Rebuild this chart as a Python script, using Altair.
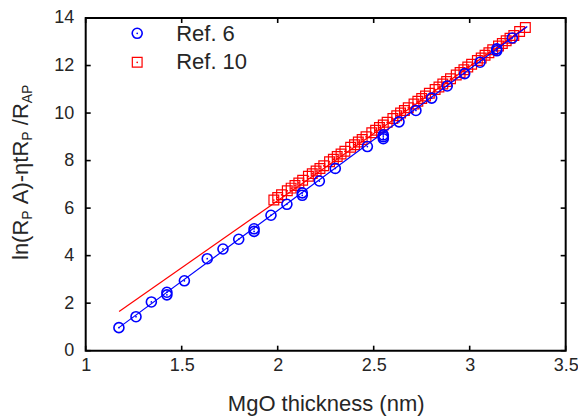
import altair as alt
import pandas as pd

# ---- data ----
ref6_x = [1.173, 1.262, 1.342, 1.423, 1.423, 1.514, 1.633, 1.715, 1.797, 1.877, 1.877,
          1.965, 2.048, 2.128, 2.128, 2.217, 2.300, 2.467, 2.550, 2.550, 2.550, 2.632,
          2.720, 2.802, 2.883, 2.974, 3.054, 3.141, 3.141, 3.222]
ref6_y = [0.97, 1.43, 2.05, 2.46, 2.35, 2.94, 3.87, 4.28, 4.69, 5.02, 5.13,
          5.70, 6.16, 6.54, 6.64, 7.14, 7.67, 8.59, 8.92, 9.00, 9.08, 9.63,
          10.11, 10.63, 11.14, 11.66, 12.14, 12.62, 12.70, 13.16]

ref10_x = [1.98, 2.00, 2.02, 2.05, 2.07, 2.09, 2.11, 2.13, 2.16, 2.18, 2.20, 2.22, 2.24,
           2.27, 2.29, 2.31, 2.33, 2.35, 2.38, 2.40, 2.42, 2.44, 2.46, 2.49, 2.51, 2.53,
           2.55, 2.57, 2.60, 2.62, 2.64, 2.66, 2.68, 2.71, 2.73, 2.75, 2.77, 2.79, 2.82,
           2.84, 2.86, 2.88, 2.90, 2.93, 2.95, 2.97, 2.99, 3.01, 3.04, 3.06, 3.08, 3.10,
           3.12, 3.15, 3.17, 3.19, 3.21, 3.23, 3.26, 3.29]
ref10_y = [6.34, 6.45, 6.56, 6.73, 6.84, 6.95, 7.06, 7.17, 7.34, 7.45, 7.56, 7.67, 7.78,
           7.95, 8.06, 8.17, 8.28, 8.39, 8.56, 8.67, 8.78, 8.89, 9.00, 9.17, 9.28, 9.39,
           9.50, 9.61, 9.77, 9.89, 10.00, 10.11, 10.22, 10.38, 10.50, 10.61, 10.72, 10.83,
           10.99, 11.10, 11.22, 11.33, 11.44, 11.60, 11.71, 11.82, 11.94, 12.05, 12.21,
           12.32, 12.43, 12.54, 12.66, 12.82, 12.93, 13.04, 13.15, 13.26, 13.43, 13.60]

fit6_x = [1.173, 3.30]
fit6_y = [0.97, 13.64]
fit10_x = [1.174, 3.29]
fit10_y = [1.65, 13.60]

x_ticks = [1, 1.5, 2, 2.5, 3, 3.5]
y_ticks = [0, 2, 4, 6, 8, 10, 12, 14]

legend_labels = ["Ref. 6", "Ref. 10"]

# y-axis title pieces: (text, is_subscript, gap before piece in em of main font)
ytitle_parts = [("ln(R", False, 0.0), ("P", True, 0.0), ("A)-\u03b7tR", False, 0.278),
                ("P", True, 0.0), ("/R", False, 0.278), ("AP", True, 0.0)]

# ---- styling ----
W, H = 480, 332.7
FONT = "Liberation Sans"
TXT = "#262626"
BLUE = "#0000ff"
RED = "#ff0000"

df6 = pd.DataFrame({"x": ref6_x, "y": ref6_y})
df10 = pd.DataFrame({"x": ref10_x, "y": ref10_y})
dfit6 = pd.DataFrame({"x": fit6_x, "y": fit6_y})
dfit10 = pd.DataFrame({"x": fit10_x, "y": fit10_y})
dxt = pd.DataFrame({"x": x_ticks})
dyt = pd.DataFrame({"y": y_ticks})

xscale = alt.Scale(domain=[1, 3.5], nice=False, zero=False)
yscale = alt.Scale(domain=[0, 14], nice=False, zero=False)

xaxis = alt.Axis(values=x_ticks, format="~g", ticks=False, domain=False, grid=False,
                 labelFontSize=18, labelFont=FONT, labelColor=TXT, labelPadding=6,
                 title="MgO thickness (nm)", titleFontSize=22, titleFont=FONT,
                 titleFontWeight="normal", titleColor=TXT, titlePadding=19,
                 labelFlush=False)
yaxis = alt.Axis(values=y_ticks, format="~g", ticks=False, domain=False, grid=False,
                 labelFontSize=18, labelFont=FONT, labelColor=TXT, labelPadding=12,
                 title=None, labelFlush=False)

X = alt.X("x:Q", scale=xscale, axis=xaxis)
Y = alt.Y("y:Q", scale=yscale, axis=yaxis)

line10 = alt.Chart(dfit10).mark_line(color=RED, strokeWidth=1.2).encode(x=X, y=Y)
sq10 = alt.Chart(df10).mark_point(shape="square", filled=False, color=RED, size=95,
                                  strokeWidth=1.2, opacity=1).encode(x=X, y=Y)
dot10 = alt.Chart(df10).mark_point(shape="circle", filled=True, color=RED, size=3,
                                   opacity=1).encode(x=X, y=Y)
line6 = alt.Chart(dfit6).mark_line(color=BLUE, strokeWidth=1.2).encode(x=X, y=Y)
circ6 = alt.Chart(df6).mark_point(shape="circle", filled=False, color=BLUE, size=100,
                                  strokeWidth=1.6, opacity=1).encode(x=X, y=Y)
dot6 = alt.Chart(df6).mark_point(shape="circle", filled=True, color=BLUE, size=3,
                                 opacity=1).encode(x=X, y=Y)

TL = 5
tick_style = dict(color="black", strokeWidth=1.6)
tick_b = alt.Chart(dxt).mark_rule(**tick_style).encode(x=X, y=alt.value(H), y2=alt.value(H - TL))
tick_t = alt.Chart(dxt).mark_rule(**tick_style).encode(x=X, y=alt.value(0), y2=alt.value(TL))
tick_l = alt.Chart(dyt).mark_rule(**tick_style).encode(y=Y, x=alt.value(0), x2=alt.value(TL))
tick_r = alt.Chart(dyt).mark_rule(**tick_style).encode(y=Y, x=alt.value(W), x2=alt.value(W - TL))

# legend (manual, inside top-left)
one = pd.DataFrame({"k": [0]})
LX = 51.5
LY1, LY2 = 15.3, 44.3
leg_c = alt.Chart(one).mark_point(shape="circle", filled=False, color=BLUE, size=100,
                                  strokeWidth=1.6, opacity=1).encode(
    x=alt.value(LX), y=alt.value(LY1))
leg_cd = alt.Chart(one).mark_point(shape="circle", filled=True, color=BLUE, size=3,
                                   opacity=1).encode(x=alt.value(LX), y=alt.value(LY1))
leg_s = alt.Chart(one).mark_point(shape="square", filled=False, color=RED, size=95,
                                  strokeWidth=1.2, opacity=1).encode(
    x=alt.value(LX), y=alt.value(LY2))
leg_sd = alt.Chart(one).mark_point(shape="circle", filled=True, color=RED, size=3,
                                   opacity=1).encode(x=alt.value(LX), y=alt.value(LY2))
leg_t1 = alt.Chart(one).mark_text(text=legend_labels[0], fontSize=22, font=FONT, color=TXT,
                                  align="left", baseline="alphabetic").encode(
    x=alt.value(90.5), y=alt.value(22.9))
leg_t2 = alt.Chart(one).mark_text(text=legend_labels[1], fontSize=22, font=FONT, color=TXT,
                                  align="left", baseline="alphabetic").encode(
    x=alt.value(90.5), y=alt.value(51.2))

# rotated y title assembled from pieces (approximate Liberation Sans advance widths)
adv = {"l": 0.222, "n": 0.556, "(": 0.333, ")": 0.333, "R": 0.722, "P": 0.667,
       "A": 0.667, "-": 0.333, "\u03b7": 0.556, "t": 0.278, "/": 0.278}
title_layers = []
ypos = 242.0
for txt, sub, gap in ytitle_parts:
    fs = 14 if sub else 22
    xb = -54.0 if sub else -57.5
    ypos -= gap * 22
    title_layers.append(
        alt.Chart(one).mark_text(text=txt, fontSize=fs, font=FONT, color=TXT, angle=270,
                                 align="left", baseline="alphabetic").encode(
            x=alt.value(xb), y=alt.value(ypos)))
    ypos -= sum(adv[c] for c in txt) * fs

chart = alt.layer(
    line10, sq10, dot10, line6, circ6, dot6,
    tick_b, tick_t, tick_l, tick_r,
    leg_c, leg_cd, leg_s, leg_sd, leg_t1, leg_t2,
    *title_layers
).properties(
    width=W, height=H,
    autosize=alt.AutoSizeParams(type="none"),
    padding={"left": 77.7, "top": 10, "right": 12, "bottom": 70},
    background="white",
).configure_view(stroke="black", strokeWidth=2)

chart.save("out.html", embed_options={"renderer": "svg", "actions": False})
